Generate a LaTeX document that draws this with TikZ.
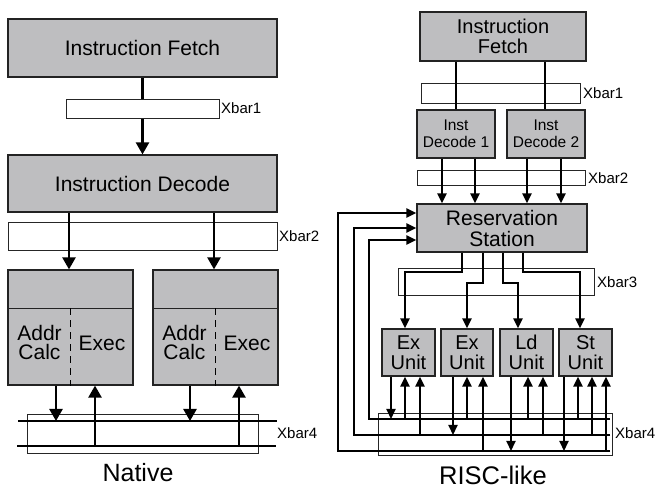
\documentclass[tikz,border=0pt]{standalone}
\usepackage{fontspec}
\setmainfont{Liberation Sans}
\usetikzlibrary{arrows.meta}
\definecolor{boxfill}{RGB}{190,190,192}
\definecolor{boxedge}{RGB}{35,35,35}
\tikzset{
  box/.style={draw=boxedge, fill=boxfill, line width=1.2pt, inner sep=0pt, align=center},
  xbar/.style={draw=black!85, fill=white, line width=0.8pt, inner sep=0pt},
  lbl/.style={inner sep=0pt, anchor=west, font=\fontsize{15}{15}\selectfont},
  big/.style={inner sep=0pt, font=\fontsize{21}{21}\selectfont, align=center},
  larr/.style={line width=2.4pt, -{Triangle[length=12pt,width=13pt]}},
  rarr/.style={line width=2.1pt, -{Triangle[length=10pt,width=9pt]}},
  lbus/.style={line width=2.4pt},
  rbus/.style={line width=2.1pt},
  divline/.style={draw=boxedge, line width=1.2pt},
  dashdiv/.style={draw=black, line width=1pt, dash pattern=on 7pt off 5pt},
}
\begin{document}
\begin{tikzpicture}[x=1pt,y=-1pt]
\useasboundingbox (0,0) rectangle (657,489);

% ================= Native =================
\node[box, minimum width=269pt, minimum height=58pt, font=\fontsize{21}{21}\selectfont] (lf) at (142.5,48) {Instruction Fetch};
\node[box, minimum width=269pt, minimum height=57pt, font=\fontsize{21}{21}\selectfont] (ld) at (142.5,183.5) {Instruction Decode};
\draw[larr] (lf) -- (ld);
\node[xbar, minimum width=153pt, minimum height=19pt] (lx1) at (142.5,108.5) {};
\node[lbl] (lx1l) at (221,108.5) {Xbar1};

\node[xbar, minimum width=269pt, minimum height=28pt] (lx2) at (142.5,236) {};
\node[lbl] (lx2l) at (279,236) {Xbar2};

\node[box, minimum width=125pt, minimum height=115pt] (lu1) at (70.5,327.5) {};
\node[box, minimum width=125pt, minimum height=115pt] (lu2) at (215.5,327.5) {};
\foreach \u in {lu1,lu2}{
  \draw[divline] ([yshift=-39pt]\u.north west) -- ([yshift=-39pt]\u.north east);
  \draw[dashdiv] ([xshift=63pt,yshift=-39pt]\u.north west) -- ([xshift=63pt]\u.south west);
}
\node[big] (lac1) at (39.5,342) {Addr\\[-2pt]Calc};
\node[big] (lex1) at (102,343) {Exec};
\node[big] (lac2) at (184.5,342) {Addr\\[-2pt]Calc};
\node[big] (lex2) at (247,343) {Exec};

\draw[larr] (69,0 |- ld.south) -- (69,0 |- lu1.north);
\draw[larr] (214,0 |- ld.south) -- (214,0 |- lu2.north);

\node[xbar, minimum width=231pt, minimum height=39pt] (lx4) at (142.5,433.5) {};
\node[lbl] (lx4l) at (277,433) {Xbar4};
\coordinate (lb1a) at (18,421);
\coordinate (lb1b) at (277,421);
\coordinate (lb2a) at (17,446);
\coordinate (lb2b) at (276,446);
\draw[lbus] (lb1a) -- (lb1b);
\draw[lbus] (lb2a) -- (lb2b);
\draw[larr] (lu1.south -| 56,0) -- (56,0 |- lb1a);
\draw[larr] (95,0 |- lb2a) -- (lu1.south -| 95,0);
\draw[larr] (lu2.south -| 190,0) -- (190,0 |- lb1a);
\draw[larr] (239,0 |- lb2a) -- (lu2.south -| 239,0);

\node[inner sep=0pt, font=\fontsize{25}{25}\selectfont] (native) at (138,473) {Native};

% ================= RISC-like =================
\node[box, minimum width=166pt, minimum height=49pt, font=\fontsize{20}{20}\selectfont] (rf) at (503,36.5) {Instruction\\Fetch};
\node[xbar, minimum width=159pt, minimum height=20pt] (rx1) at (500.5,93) {};
\node[lbl] (rx1l) at (583,93) {Xbar1};
\node[box, minimum width=78pt, minimum height=48pt, font=\fontsize{15.5}{17}\selectfont] (rd1) at (456,134) {Inst\\Decode 1};
\node[box, minimum width=78pt, minimum height=48pt, font=\fontsize{15.5}{17}\selectfont] (rd2) at (546,134) {Inst\\Decode 2};
\draw[rbus] (456,0 |- rf.south) -- (456,0 |- rd1.north);
\draw[rbus] (545,0 |- rf.south) -- (545,0 |- rd2.north);

\node[xbar, minimum width=168pt, minimum height=15pt] (rx2) at (501,177.5) {};
\node[lbl] (rx2l) at (588,178) {Xbar2};
\node[box, minimum width=170pt, minimum height=48pt, font=\fontsize{21}{21}\selectfont] (rs) at (502,228) {Reservation\\Station};
\draw[rarr] (442,0 |- rd1.south) -- (442,0 |- rs.north);
\draw[rarr] (475,0 |- rd1.south) -- (475,0 |- rs.north);
\draw[rarr] (527,0 |- rd2.south) -- (527,0 |- rs.north);
\draw[rarr] (561,0 |- rd2.south) -- (561,0 |- rs.north);

\node[xbar, minimum width=196pt, minimum height=27pt] (rx3) at (496,281.5) {};
\node[lbl] (rx3l) at (597,282) {Xbar3};

\node[box, minimum width=53pt, minimum height=47pt, font=\fontsize{20}{20}\selectfont] (u1) at (408.5,352.5) {Ex\\Unit};
\node[box, minimum width=52pt, minimum height=47pt, font=\fontsize{20}{20}\selectfont] (u2) at (467,352.5) {Ex\\Unit};
\node[box, minimum width=53pt, minimum height=47pt, font=\fontsize{20}{20}\selectfont] (u3) at (526.5,352.5) {Ld\\Unit};
\node[box, minimum width=53pt, minimum height=47pt, font=\fontsize{20}{20}\selectfont] (u4) at (585.5,352.5) {St\\Unit};

\draw[rarr] (462,0 |- rs.south) |- (405,272) -- (405,0 |- u1.north);
\draw[rarr] (483,0 |- rs.south) |- (467,283) -- (467,0 |- u2.north);
\draw[rarr] (503,0 |- rs.south) |- (518,283) -- (518,0 |- u3.north);
\draw[rarr] (523,0 |- rs.south) |- (580,272) -- (580,0 |- u4.north);

\node[xbar, minimum width=234pt, minimum height=42pt] (rx4) at (495,434) {};
\node[lbl] (rx4l) at (615,433) {Xbar4};

\coordinate (b1) at (610,419);
\coordinate (b2) at (610,435);
\coordinate (b3) at (610,451);
\draw[rarr] (b3) -- (338,0 |- b3) |- ([yshift=15pt]rs.west);
\draw[rarr] (b2) -- (354,0 |- b2) |- (rs.west);
\draw[rarr] (b1) -- (369,0 |- b1) |- ([yshift=-12pt]rs.west);

% unit connections
\draw[rarr] (391,0 |- u1.south) -- (391,0 |- b1);
\draw[rarr] (405,0 |- b1) -- (405,0 |- u1.south);
\draw[rarr] (420,0 |- b2) -- (420,0 |- u1.south);
\draw[rarr] (453,0 |- u2.south) -- (453,0 |- b2);
\draw[rarr] (467,0 |- b1) -- (467,0 |- u2.south);
\draw[rarr] (483,0 |- b3) -- (483,0 |- u2.south);
\draw[rarr] (511,0 |- u3.south) -- (511,0 |- b3);
\draw[rarr] (528,0 |- b1) -- (528,0 |- u3.south);
\draw[rarr] (543,0 |- b2) -- (543,0 |- u3.south);
\draw[rarr] (564,0 |- u4.south) -- (564,0 |- b3);
\draw[rarr] (578,0 |- b1) -- (578,0 |- u4.south);
\draw[rarr] (592,0 |- b2) -- (592,0 |- u4.south);
\draw[rarr] (606,0 |- b3) -- (606,0 |- u4.south);

\node[inner sep=0pt, font=\fontsize{25.5}{25.5}\selectfont] (risc) at (493,475) {RISC-like};
\end{tikzpicture}
\end{document}
